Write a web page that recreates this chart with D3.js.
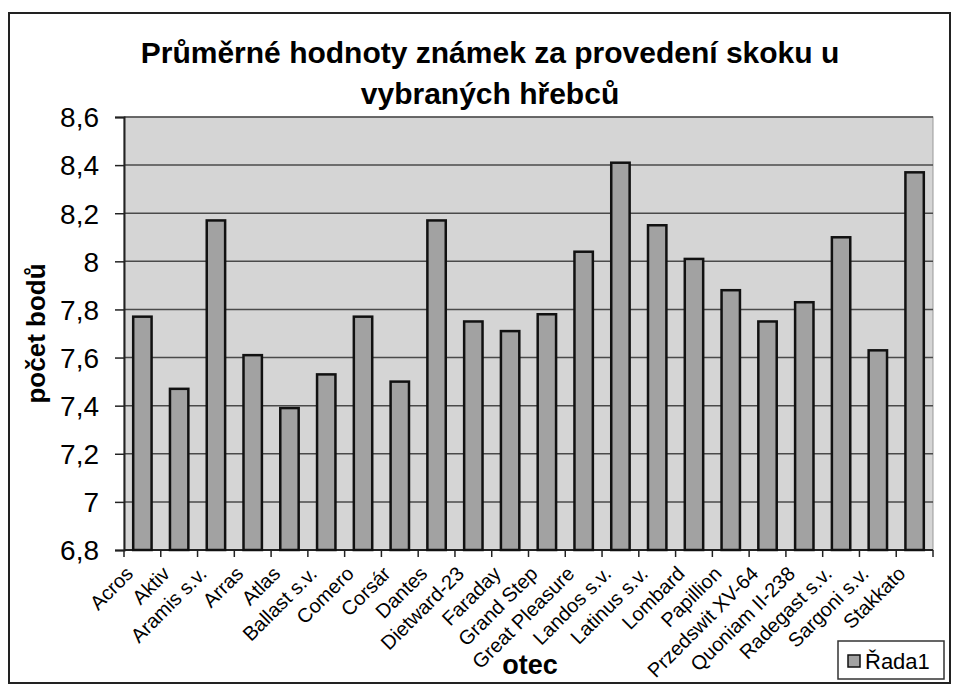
<!DOCTYPE html>
<html>
<head>
<meta charset="utf-8">
<script src="https://cdn.jsdelivr.net/npm/d3@7"></script>
<style>
  body { margin: 0; background: #fff; }
  svg text { font-family: Arial, "Liberation Sans", sans-serif; fill: #000; }
</style>
</head>
<body>
<svg id="chart" width="953" height="686"></svg>
<script>
// Data
const categories = ["Acros", "Aktiv", "Aramis s.v.", "Arras", "Atlas", "Ballast s.v.", "Comero", "Corsár",
  "Dantes", "Dietward-23", "Faraday", "Grand Step", "Great Pleasure", "Landos s.v.", "Latinus s.v.",
  "Lombard", "Papillion", "Przedswit XV-64", "Quoniam II-238", "Radegast s.v.", "Sargoni s.v.", "Stakkato"];
const values = [7.77, 7.47, 8.17, 7.61, 7.39, 7.53, 7.77, 7.50, 8.17, 7.75, 7.71, 7.78, 8.04, 8.41, 8.15,
  8.01, 7.88, 7.75, 7.83, 8.10, 7.63, 8.37];
const yTicks = [6.8, 7, 7.2, 7.4, 7.6, 7.8, 8, 8.2, 8.4, 8.6];
const seriesName = "Řada1";

const svg = d3.select("#chart");
const margin = { left: 124, top: 117 };
const plotRight = 933, plotBottom = 550;

// outer frame
svg.append("rect")
    .attr("x", 9).attr("y", 13)
    .attr("width", 941).attr("height", 670)
    .attr("fill", "#fff").attr("stroke", "#222").attr("stroke-width", 2);

// title
const title = svg.append("text")
    .attr("text-anchor", "middle")
    .attr("font-size", 30).attr("font-weight", "bold");
title.append("tspan").attr("x", 490).attr("y", 63).text("Průměrné hodnoty známek za provedení skoku u");
title.append("tspan").attr("x", 490).attr("y", 104).text("vybraných hřebců");

const x = d3.scaleBand()
    .domain(categories)
    .range([margin.left, plotRight])
    .paddingInner(0.5).paddingOuter(0.25);

const y = d3.scaleLinear()
    .domain([6.8, 8.6])
    .range([plotBottom, margin.top]);

// plot background
svg.append("rect")
    .attr("x", margin.left).attr("y", margin.top)
    .attr("width", plotRight - margin.left).attr("height", plotBottom - margin.top)
    .attr("fill", "#d5d5d5").attr("stroke", "#999").attr("stroke-width", 1);

// gridlines
svg.selectAll(".grid")
    .data(yTicks.slice(1))
    .enter().append("line")
    .attr("class", "grid")
    .attr("x1", margin.left).attr("x2", plotRight)
    .attr("y1", d => y(d)).attr("y2", d => y(d))
    .attr("stroke", "#4a4a4a").attr("stroke-width", 1.5);

// y axis
const yAxis = svg.append("g")
    .attr("transform", `translate(${margin.left},0)`)
    .call(d3.axisLeft(y).tickValues(yTicks).tickSize(9).tickPadding(16)
        .tickFormat(d => String(d).replace(".", ",")));
yAxis.select(".domain").attr("stroke", "#222").attr("stroke-width", 2);
yAxis.selectAll(".tick line").attr("stroke", "#222").attr("stroke-width", 1.5);
yAxis.selectAll(".tick text").attr("font-size", 28).attr("fill", "#000")
    .attr("font-family", "Arial, 'Liberation Sans', sans-serif").attr("dy", "0.35em");

// x axis line and ticks at category boundaries
svg.append("line")
    .attr("x1", margin.left).attr("x2", plotRight)
    .attr("y1", plotBottom).attr("y2", plotBottom)
    .attr("stroke", "#222").attr("stroke-width", 2);
const bounds = categories.map(c => x(c) - x.step() * 0.25).concat([plotRight]);
svg.selectAll(".xtick")
    .data(bounds)
    .enter().append("line")
    .attr("x1", d => d).attr("x2", d => d)
    .attr("y1", plotBottom).attr("y2", plotBottom + 7)
    .attr("stroke", "#222").attr("stroke-width", 1.5);

// bars
svg.selectAll(".bar")
    .data(values)
    .enter().append("rect")
    .attr("class", "bar")
    .attr("x", (d, i) => x(categories[i]))
    .attr("y", d => y(d))
    .attr("width", x.bandwidth())
    .attr("height", d => plotBottom - y(d))
    .attr("fill", "#a2a2a2")
    .attr("stroke", "#111").attr("stroke-width", 2.5);

// category labels
svg.selectAll(".xlabel")
    .data(categories)
    .enter().append("text")
    .attr("class", "xlabel")
    .attr("text-anchor", "end")
    .attr("font-size", 20)
    .attr("transform", d => `translate(${x(d) + x.bandwidth() / 2 - 8},${plotBottom + 25}) rotate(-45)`)
    .text(d => d);

// axis titles
svg.append("text")
    .attr("text-anchor", "middle")
    .attr("font-size", 26).attr("font-weight", "bold")
    .attr("transform", `translate(45,${(margin.top + plotBottom) / 2}) rotate(-90)`)
    .text("počet bodů");

svg.append("text")
    .attr("x", 530).attr("y", 674)
    .attr("text-anchor", "middle")
    .attr("font-size", 27).attr("font-weight", "bold")
    .text("otec");

// legend
const legend = svg.append("g").attr("transform", "translate(838,641)");
legend.append("rect")
    .attr("width", 106).attr("height", 38)
    .attr("fill", "#fff").attr("stroke", "#333").attr("stroke-width", 1.5);
legend.append("rect")
    .attr("x", 10).attr("y", 14).attr("width", 12).attr("height", 12)
    .attr("fill", "#a2a2a2").attr("stroke", "#111").attr("stroke-width", 1.5);
legend.append("text")
    .attr("x", 27).attr("y", 28)
    .attr("font-size", 22)
    .text(seriesName);
</script>
</body>
</html>
